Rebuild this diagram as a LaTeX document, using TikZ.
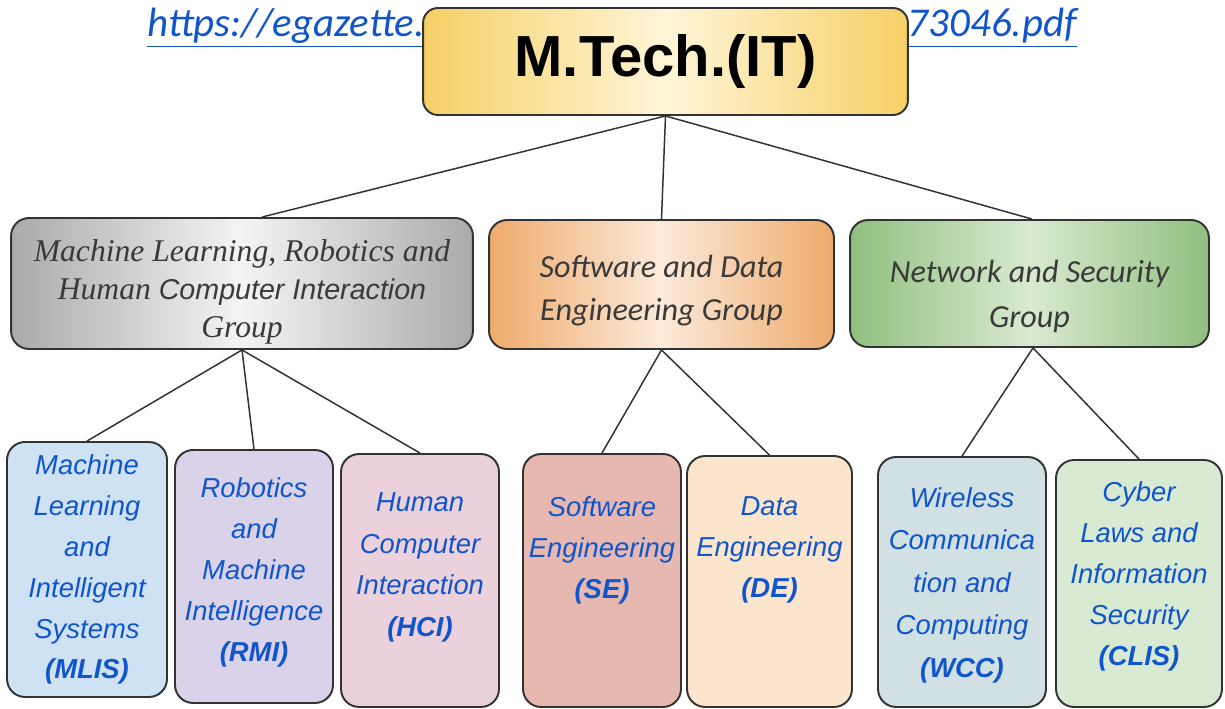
\documentclass[tikz,border=0pt]{standalone}
\usepackage{fontspec}
\setmainfont{Liberation Sans}
\newfontfamily\arialfont{Liberation Sans}
\newfontfamily\calibrifont{Carlito}
\newfontfamily\serifgroup{Liberation Serif}
\usetikzlibrary{positioning}

\definecolor{linkblue}{RGB}{17,85,204}
\definecolor{edgegray}{RGB}{51,51,51}
\definecolor{grouptext}{RGB}{58,58,58}
\definecolor{rootedge}{RGB}{246,208,102}
\definecolor{rootmid}{RGB}{255,245,216}
\definecolor{grayedge}{RGB}{170,170,170}
\definecolor{graymid}{RGB}{244,244,244}
\definecolor{orangeedge}{RGB}{238,170,108}
\definecolor{orangemid}{RGB}{252,234,218}
\definecolor{greenedge}{RGB}{144,191,126}
\definecolor{greenmid}{RGB}{216,234,208}

\begin{document}
\begin{tikzpicture}[
    x=0.02cm, y=-0.02cm,
    box/.style={rectangle, rounded corners=0.36cm, draw=edgegray, line width=1.1pt, inner sep=0pt},
    rootbox/.style={box, rounded corners=0.3cm, left color=rootedge, right color=rootedge, middle color=rootmid},
    groupbox/.style={box},
    grouptxt/.style={align=center, inner sep=0pt, text=grouptext},
    leafbox/.style={box, minimum width=3.16cm, minimum height=5.06cm},
    leaftext/.style={align=center, inner sep=0pt, text=linkblue, font=\fontsize{15.6}{23.3}\selectfont\itshape},
    urltext/.style={inner sep=0pt, text=linkblue, font=\calibrifont\fontsize{23.3}{28}\selectfont\itshape},
    link/.style={draw=edgegray, line width=0.85pt},
]
\useasboundingbox (0,0) rectangle (1225,709);

% link text behind the title
\node[urltext, anchor=base west] (urlleft) at (147,37) {\underline{https://egazette.}};
\node[urltext, anchor=base east] (urlright) at (1077,37) {\underline{73046.pdf}};

% top
\node[rootbox, minimum width=9.7cm, minimum height=2.14cm, font=\fontsize{33}{36}\selectfont\bfseries] (root) at (665.5,61.5) {M.Tech.(IT)};

% groups
\node[groupbox, minimum width=9.24cm, minimum height=2.62cm,
      left color=grayedge, right color=grayedge, middle color=graymid] (mlhci) at (242,283.5) {};
\node[groupbox, minimum width=6.9cm, minimum height=2.58cm,
      left color=orangeedge, right color=orangeedge, middle color=orangemid] (sde) at (661.5,284.5) {};
\node[groupbox, minimum width=7.18cm, minimum height=2.54cm,
      left color=greenedge, right color=greenedge, middle color=greenmid] (netsec) at (1029.5,283.5) {};

\node[grouptxt, font=\serifgroup\fontsize{18}{21.6}\selectfont\itshape] (mlhci-txt) at (242,292)
    {Machine Learning, Robotics and\\
     Human {\arialfont\fontsize{16.3}{21.6}\selectfont Computer Interaction}\\
     Group};
\node[grouptxt, font=\calibrifont\fontsize{18.3}{24.5}\selectfont\itshape] (sde-txt) at (661.5,291)
    {Software and Data\\ Engineering Group};
\node[grouptxt, font=\calibrifont\fontsize{18.3}{25.6}\selectfont\itshape] (netsec-txt) at (1029.5,296)
    {Network and Security\\ Group};

% programmes
\node[leafbox, fill={rgb,255:red,207;green,226;blue,243}, minimum width=3.2cm, minimum height=5.1cm] (mlis) at (87,569.5) {};
\node[leafbox, fill={rgb,255:red,217;green,210;blue,233}] (rmi) at (254,576.5) {};
\node[leafbox, fill={rgb,255:red,234;green,209;blue,220}] (hci) at (420,580.5) {};
\node[leafbox, fill={rgb,255:red,230;green,184;blue,175}] (se) at (602,580.5) {};
\node[leafbox, fill={rgb,255:red,252;green,229;blue,205}, minimum width=3.3cm, minimum height=5.02cm] (de) at (769.5,581.5) {};
\node[leafbox, fill={rgb,255:red,208;green,224;blue,227}, minimum width=3.36cm, minimum height=5cm] (wcc) at (962,582) {};
\node[leafbox, fill={rgb,255:red,217;green,234;blue,211}, minimum width=3.32cm, minimum height=4.94cm] (clis) at (1139,583.5) {};

\node[leaftext, below=0.26cm of mlis.north] (mlis-txt)
    {Machine\\ Learning\\ and\\ Intelligent\\ Systems\\ \textbf{(MLIS)}};
\node[leaftext, below=0.56cm of rmi.north] (rmi-txt)
    {Robotics\\ and\\ Machine\\ Intelligence\\ \textbf{(RMI)}};
\node[leaftext, below=0.78cm of hci.north, font=\fontsize{15.6}{23.8}\selectfont\itshape] (hci-txt)
    {Human\\ Computer\\ Interaction\\ \textbf{(HCI)}};
\node[leaftext, below=0.86cm of se.north] (se-txt)
    {Software\\ Engineering\\ \textbf{(SE)}};
\node[leaftext, below=0.82cm of de.north] (de-txt)
    {Data\\ Engineering\\ \textbf{(DE)}};
\node[leaftext, below=0.62cm of wcc.north, font=\fontsize{15.6}{24.2}\selectfont\itshape] (wcc-txt)
    {Wireless\\ Communica\\ tion and\\ Computing\\ \textbf{(WCC)}};
\node[leaftext, below=0.44cm of clis.north] (clis-txt)
    {Cyber\\ Laws and\\ Information\\ Security\\ \textbf{(CLIS)}};

% tree lines
\draw[link] (root.south) -- ([xshift=0.4cm]mlhci.north);
\draw[link] (root.south) -- (sde.north);
\draw[link] (root.south) -- ([xshift=0.05cm]netsec.north);
\draw[link] (mlhci.south) -- (mlis.north);
\draw[link] (mlhci.south) -- (rmi.north);
\draw[link] (mlhci.south) -- (hci.north);
\draw[link] (sde.south) -- (se.north);
\draw[link] (sde.south) -- (de.north);
\draw[link] ([xshift=0.07cm]netsec.south) -- (wcc.north);
\draw[link] ([xshift=0.07cm]netsec.south) -- (clis.north);
\end{tikzpicture}
\end{document}
